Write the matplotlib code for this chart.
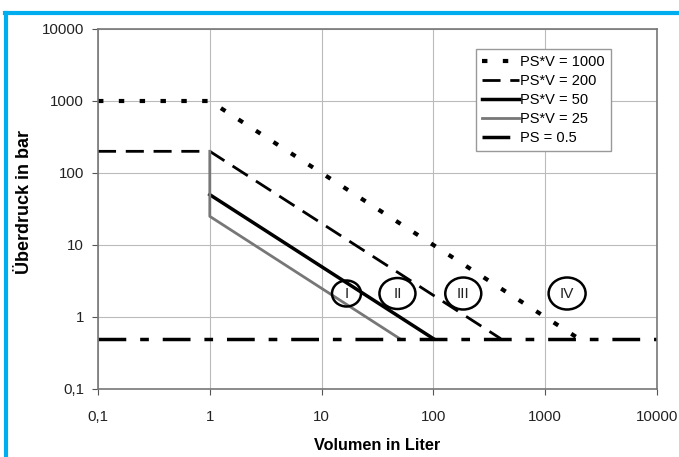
import matplotlib.pyplot as plt
from matplotlib.lines import Line2D
from matplotlib.patches import Ellipse
from matplotlib.transforms import ScaledTranslation
from matplotlib.ticker import FuncFormatter, FixedLocator

plt.rcParams['font.family'] = ['Liberation Sans', 'DejaVu Sans']

# data
v_1000 = [0.1, 1, 2000]
p_1000 = [1000, 1000, 0.5]
v_200 = [0.1, 1, 400]
p_200 = [200, 200, 0.5]
v_50 = [1, 100]
p_50 = [50, 0.5]
v_25 = [1, 1, 50]
p_25 = [200, 25, 0.5]
v_05 = [0.1, 10000]
p_05 = [0.5, 0.5]

cat_labels = ['I', 'II', 'III', 'IV']
cat_x = [16.7, 47.7, 185, 1570]
cat_y = [2.12, 2.12, 2.12, 2.12]
# ellipse sizes (inches) as seen in the chart
cat_w = [0.29, 0.36, 0.36, 0.37]
cat_h = [0.26, 0.31, 0.32, 0.32]

ticks = [0.1, 1, 10, 100, 1000, 10000]

fig = plt.figure(figsize=(6.79, 4.57), dpi=100)
ax = fig.add_axes([98/679, 1 - 389/457, 559/679, 360/457])

ax.plot(v_1000, p_1000, color='black', lw=3, linestyle=(0, (1.3, 3.7)), label='PS*V = 1000')
ax.plot(v_200, p_200, color='black', lw=2, linestyle=(0, (6.5, 3.5)), label='PS*V = 200')
ax.plot(v_50, p_50, color='black', lw=2.5, label='PS*V = 50')
ax.plot(v_25, p_25, color='#777777', lw=2, label='PS*V = 25')
ax.plot(v_05, p_05, color='black', lw=2.5, linestyle=(0, (8, 4, 2.5, 4)), label='PS = 0.5')

# class circles, fixed size on screen, no fill
for lab, x, y, w, h in zip(cat_labels, cat_x, cat_y, cat_w, cat_h):
    ax.text(x, y, lab, ha='center', va='center', fontsize=11, color='#222222', zorder=5)
    tr = fig.dpi_scale_trans + ScaledTranslation(x, y, ax.transData)
    ax.add_patch(Ellipse((0, 0), w, h, transform=tr, fill=False, ec='black',
                         lw=1.8, zorder=4))

ax.set_xscale('log')
ax.set_yscale('log')
ax.set_xlim(0.1, 10000)
ax.set_ylim(0.1, 10000)
ax.xaxis.set_major_locator(FixedLocator(ticks))
ax.yaxis.set_major_locator(FixedLocator(ticks))
ax.xaxis.set_minor_locator(FixedLocator([]))
ax.yaxis.set_minor_locator(FixedLocator([]))
fmt = FuncFormatter(lambda v, pos: ('%g' % v).replace('.', ','))
ax.xaxis.set_major_formatter(fmt)
ax.yaxis.set_major_formatter(fmt)
ax.tick_params(labelsize=10.8, length=4, color='#555555', labelcolor='#222222', pad=6)
ax.tick_params(axis='x', pad=11)
ax.grid(True, color='#bbbbbb', lw=0.8)
ax.set_axisbelow(True)
for s in ax.spines.values():
    s.set_color('#777777')
    s.set_linewidth(1.2)

ax.set_xlabel('Volumen in Liter', fontsize=11.7, fontweight='bold')
ax.set_ylabel('Überdruck in bar', fontsize=13, fontweight='bold')
ax.xaxis.set_label_coords(0.5, -0.135)
ax.yaxis.set_label_coords(-0.116, 0.519)

leg = ax.legend(loc='upper right', bbox_to_anchor=(0.93, 0.965), fontsize=10.5,
                handlelength=2.5, handletextpad=0.1, labelspacing=0.35,
                fancybox=False, framealpha=1, borderpad=0.4)
leg.get_frame().set_edgecolor('#999999')
leg.get_frame().set_linewidth(1)

# blue frame around the figure
fig.add_artist(Line2D([5/679, 1], [1 - 13/457, 1 - 13/457], color='#00aeef', lw=3))
fig.add_artist(Line2D([6/679, 6/679], [0, 1 - 13/457], color='#00aeef', lw=3))

fig.savefig('out.png', dpi=100)
